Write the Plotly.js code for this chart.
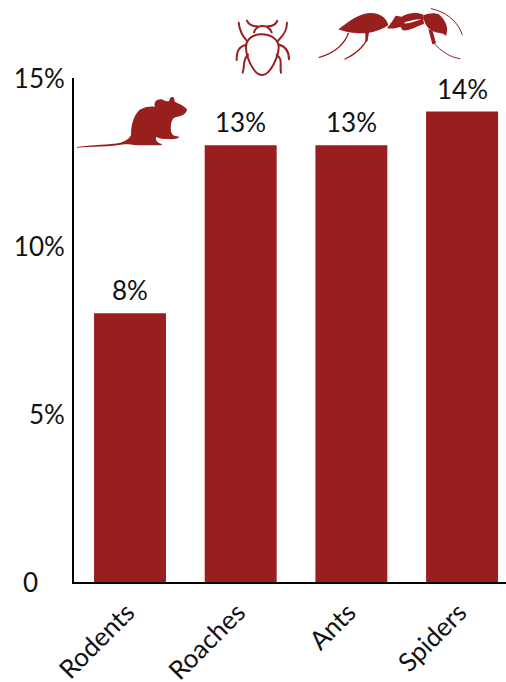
<!DOCTYPE html>
<html><head><meta charset="utf-8">
<script src="https://cdn.plot.ly/plotly-3.0.1.min.js"></script>
<style>html,body{margin:0;padding:0;background:#fff}</style></head>
<body><div id="chart" style="width:506px;height:682px"></div>
<script>
const categories = ['Rodents','Roaches','Ants','Spiders'];
const values = [8,13,13,14];
const valueLabels = ['8%','13%','13%','14%'];
const yTickVals = [0,5,10,15];
const yTickText = ['0\u00a0\u00a0\u00a0\u00a0','5%','10%','15%'];
const RED = '#981f1e';
const INK = '#111111';

const W = 506, H = 682, M = {l:74, r:0, t:78, b:100};
const plotW = W - M.l - M.r, plotH = H - M.t - M.b;

function svgUri(vb, body){
  const s = `<svg xmlns="http://www.w3.org/2000/svg" viewBox="${vb}">${body}</svg>`;
  return 'data:image/svg+xml;base64,' + btoa(s);
}
const ratBody = `<path fill="${RED}" d="M48,441 C90,434 150,434 178,428 C195,424 205,415 210,405 C210,380 215,350 235,330 C250,320 270,318 282,320 C276,305 290,295 303,298 C310,302 312,305 325,303 C325,292 335,287 340,296 L341,305 C355,312 372,318 378,328 C376,340 368,347 350,350 C335,352 332,360 330,375 C328,390 330,403 340,407 L355,410 C350,418 335,418 315,417 C300,418 290,412 285,410 C283,420 288,428 302,432 L302,436 L240,436 C215,436 205,432 190,433 C150,440 90,441 48,443Z"/>`;
const bugBody = `<g fill="none" stroke="${RED}" stroke-width="6" stroke-linecap="round">
<path d="M125,103 C95,103 78,120 78,142 C78,170 100,225 127,225 C150,225 176,170 176,142 C176,120 155,103 125,103Z"/>
<path d="M102,97 C110,72 145,72 155,97"/>
<path d="M81,62 C85,74 100,79 112,79"/><path d="M172,62 C168,74 155,79 142,79"/>
<path d="M56,68 C58,88 62,102 80,122"/><path d="M201,68 C201,88 195,102 174,122"/>
<path d="M50,180 C50,155 55,140 79,134"/><path d="M207,178 C207,155 200,140 177,134"/>
<path d="M68,218 C76,195 66,180 84,164"/><path d="M183,218 C178,195 190,180 170,164"/>
</g>`;
const antBody = `<path fill="${RED}" d="M355,88 C385,66 415,40 450,39 C485,40 500,55 505,76 C490,86 470,95 447,98 L442,125 L436,125 L436,100 C410,100 385,100 355,88Z"/>
<path fill="${RED}" d="M501,84 C512,72 520,58 527,47 L545,50 C560,40 590,34 610,44 L612,58 C590,56 570,62 556,66 L552,70 C565,72 590,62 610,56 L612,72 C592,78 570,93 548,91 L541,80 C530,84 515,88 501,84Z"/>
<path fill="${RED}" d="M610,46 C625,40 640,38 655,42 C672,55 685,78 681,95 L678,108 C668,96 652,102 640,94 C625,88 612,75 610,46Z"/>
<path fill="${RED}" d="M625,88 L638,92 L648,130 L637,133Z"/>
<g fill="none" stroke="${RED}" stroke-linecap="round">
<path stroke-width="3" d="M634,26 C675,35 712,60 727,104"/>
<path stroke-width="3" d="M640,128 C665,155 690,172 720,176"/>
<path stroke-width="4" d="M385,100 C375,130 345,160 298,172"/>
<path stroke-width="4" d="M442,110 C440,130 415,158 375,177"/>
</g>`;

function img(src, px, py, pw, ph){
  return {source:src, xref:'paper', yref:'paper', xanchor:'left', yanchor:'top',
    x:(px-M.l)/plotW, y:1-(py-M.t)/plotH, sizex:pw/plotW, sizey:ph/plotH,
    sizing:'stretch', layer:'above'};
}
const images = [
  img(svgUri('30 280 360 170', ratBody), 61+30/3, 280/3, 360/3, 170/3),
  img(svgUri('30 45 200 195', bugBody), 220+30/3, 45/3, 200/3, 195/3),
  img(svgUri('285 15 455 170', antBody), 220+285/3, 15/3, 455/3, 170/3)
];

const annotations = categories.map((c,i)=>({
  x:c, y:values[i], xref:'x', yref:'y', text:valueLabels[i], showarrow:false,
  xanchor:'center', yanchor:'bottom', yshift:5,
  font:{family:'Lato', size:26, color:INK}
}));

Plotly.newPlot('chart', [{
  type:'bar', x:categories, y:values,
  cliponaxis:false, width:0.65, marker:{color:RED, line:{width:0}}, hoverinfo:'none'
}], {
  width:W, height:H, margin:M, showlegend:false,
  paper_bgcolor:'#fff', plot_bgcolor:'#fff',
  font:{family:'Lato', size:26, color:INK},
  xaxis:{type:'category', range:[-0.506,3.397], tickangle:-45, ticks:'', showgrid:false,
    showline:true, linecolor:'#000', linewidth:2, ticklabelstandoff:3, ticklabelshift:-3,
    tickfont:{family:'Lato', size:26, color:INK}},
  yaxis:{range:[0,15], tickvals:yTickVals, ticktext:yTickText, ticks:'', showgrid:false, zeroline:false,
    showline:true, linecolor:'#000', linewidth:2, ticklen:0, ticklabelstandoff:2, ticklabelshift:1,
    tickfont:{family:'Lato', size:26, color:INK}},
  images:images, annotations:annotations
}, {displayModeBar:false, staticPlot:true});
</script></body></html>
